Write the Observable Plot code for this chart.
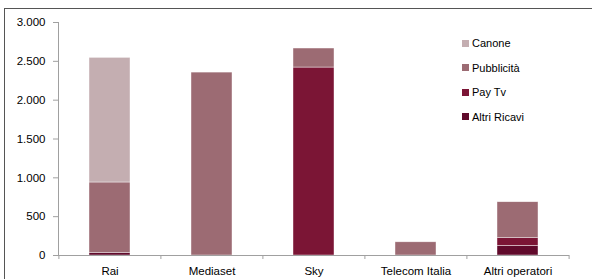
<!DOCTYPE html>
<html><head><meta charset="utf-8">
<script src="https://cdn.jsdelivr.net/npm/d3@7"></script>
<script src="https://cdn.jsdelivr.net/npm/@observablehq/plot@0.6"></script>
<style>
body{margin:0;background:#fff;font-family:"Liberation Sans",Arial,sans-serif;}
#wrap{position:relative;width:592px;height:279px;overflow:hidden;}
#frame{position:absolute;left:4px;top:8px;width:600px;height:300px;border:1.5px solid #555;box-sizing:border-box;pointer-events:none;}
#legend{position:absolute;left:462px;top:31px;font-size:11px;color:#000;}
#legend div{height:24.5px;display:flex;align-items:center;}
#legend span.sw{display:inline-block;width:7px;height:7px;margin-right:3px;}
</style></head>
<body><div id="wrap"><div id="frame"></div><div id="legend"></div></div>
<script>
const categories = ["Rai", "Mediaset", "Sky", "Telecom Italia", "Altri operatori"];
const series = ["Altri Ricavi", "Pay Tv", "Pubblicità", "Canone"];
const altriRicavi = [35, 0, 0, 0, 125];
const payTv = [0, 0, 2420, 0, 98];
const pubblicita = [905, 2355, 245, 170, 463];
const canone = [1605, 0, 0, 0, 0];
const colors = ["#600a2b", "#7b1535", "#9c6b73", "#c4aeb1"];
const yTicks = [0, 500, 1000, 1500, 2000, 2500, 3000];

const values = [altriRicavi, payTv, pubblicita, canone];
const data = [];
series.forEach((s, j) => categories.forEach((c, i) => data.push({cat: c, serie: s, v: values[j][i]})));

const fmt = d => d3.format(",")(d).replace(/,/g, ".");
const step = (592 - 58 - 23) / categories.length;

const chart = Plot.plot({
  width: 592, height: 279,
  marginLeft: 58, marginRight: 23, marginTop: 22, marginBottom: 24,
  style: {fontFamily: "Liberation Sans, Arial, sans-serif", fontSize: "11.5px", color: "#000", background: "transparent"},
  x: {domain: categories, paddingInner: 0.6, paddingOuter: 0.3},
  y: {domain: [0, 3000]},
  color: {domain: series, range: colors},
  marks: [
    Plot.barY(data, {x: "cat", y: "v", fill: "serie", order: series, stroke: "#fff", strokeWidth: 0.6, strokeOpacity: 0.7}),
    Plot.frame({anchor: "left", stroke: "#a0a0a0"}),
    Plot.ruleY([0], {stroke: "#a0a0a0"}),
    Plot.axisY({ticks: yTicks, tickFormat: fmt, tickSize: 5, tickPadding: 8, stroke: "#a0a0a0", label: null, fill: "#000"}),
    Plot.axisX({tickSize: 0, tickPadding: 11, label: null}),
    Plot.ruleX(categories, {x: d => d, dx: -step / 2, y1: 0, y2: 0, insetBottom: -4, stroke: "#a0a0a0"}),
    Plot.ruleX(categories.slice(-1), {x: d => d, dx: step / 2, y1: 0, y2: 0, insetBottom: -4, stroke: "#a0a0a0"})
  ]
});
document.getElementById("wrap").prepend(chart);

const leg = document.getElementById("legend");
[...series].reverse().forEach(s => {
  const d = document.createElement("div");
  d.innerHTML = `<span class="sw" style="background:${colors[series.indexOf(s)]}"></span>${s}`;
  leg.appendChild(d);
});
</script></body></html>
